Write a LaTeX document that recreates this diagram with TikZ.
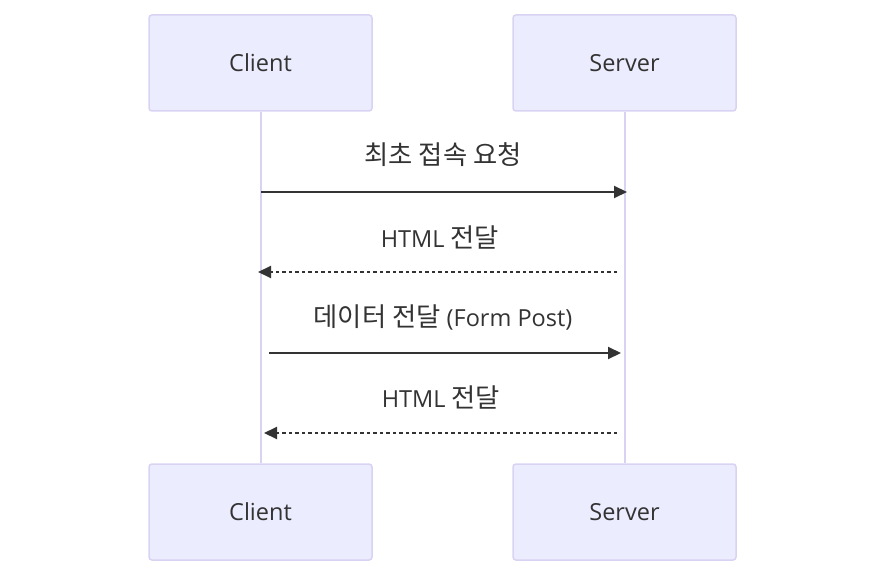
\documentclass[tikz,border=0pt]{standalone}
\usepackage{fontspec}
\setmainfont{Open Sans}
\newfontfamily\kr{Noto Sans CJK KR}[Scale=1.12]
\usetikzlibrary{arrows.meta}
\definecolor{actorfill}{HTML}{ECECFF}
\definecolor{actorline}{HTML}{D9D2F2}
\definecolor{ink}{HTML}{333333}
\tikzset{
  actor/.style={draw=actorline, fill=actorfill, line width=1.5pt, rounded corners=3pt,
    minimum width=223pt, minimum height=96pt, inner sep=0pt, text=ink,
    font=\fontsize{23.5pt}{28pt}\selectfont},
  lifeline/.style={draw=actorline, line width=2pt},
  msg/.style={draw=ink, line width=2pt, -{Triangle[length=13pt,width=12pt]}},
  reply/.style={msg, dash pattern=on 3.5pt off 3pt},
  msglabel/.style={text=ink, font=\fontsize{23.5pt}{28pt}\selectfont, inner sep=0pt}
}
\begin{document}
\begin{tikzpicture}[x=1pt,y=-1pt]
  \useasboundingbox (0,0) rectangle (885,577);
  % participants, top and bottom
  \node[actor] (clientTop) at (260.5,63) {Client};
  \node[actor] (serverTop) at (624.5,63) {Server};
  \node[actor] (clientBot) at (260.5,512) {Client};
  \node[actor] (serverBot) at (624.5,512) {Server};
  % lifelines
  \draw[lifeline] (clientTop.south) -- (clientBot.north);
  \draw[lifeline] (serverTop.south) -- (serverBot.north);
  % message anchors
  \coordinate (m1a) at (261,192);
  \coordinate (m1b) at (627,192);
  \coordinate (m2a) at (617,272);
  \coordinate (m2b) at (258,272);
  \coordinate (m3a) at (269,353);
  \coordinate (m3b) at (621,353);
  \coordinate (m4a) at (617,433);
  \coordinate (m4b) at (264,433);
  % messages
  \draw[msg] (m1a) -- (m1b);
  \node[msglabel] (l1) at (443,155) {\kr 최초 접속 요청};
  \draw[reply] (m2a) -- (m2b);
  \node[msglabel] (l2) at (440,237) {HTML {\kr 전달}};
  \draw[msg] (m3a) -- (m3b);
  \node[msglabel] (l3) at (443,317) {{\kr 데이터 전달} (Form Post)};
  \draw[reply] (m4a) -- (m4b);
  \node[msglabel] (l4) at (441,397) {HTML {\kr 전달}};
\end{tikzpicture}
\end{document}
